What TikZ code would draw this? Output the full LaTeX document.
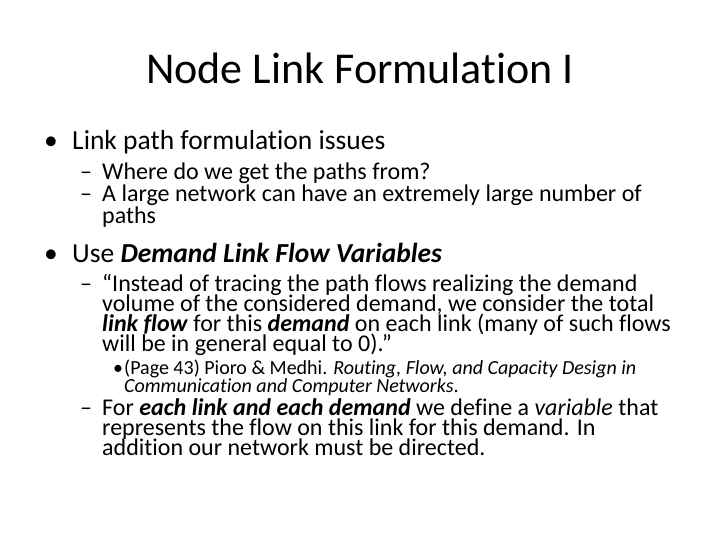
\documentclass[tikz,border=0pt]{standalone}
\usepackage{fontspec}
\setmainfont[Ligatures=NoCommon]{Carlito}
\begin{document}
\begin{tikzpicture}[x=1pt,y=-1pt,
 ln/.style={anchor=base west,inner sep=0pt},
 t1/.style={ln,font=\fontsize{27.5}{32}\selectfont},
 t2/.style={ln,font=\fontsize{24}{28}\selectfont},
 t3/.style={ln,font=\fontsize{20}{24}\selectfont}]
\useasboundingbox (0,0) rectangle (720,540);
\node[anchor=base,inner sep=0pt,font=\fontsize{44}{52}\selectfont] (title) at (360,84) {Node Link Formulation I};
\node[t1] (b1) at (44,150) {•}; \node[t1] (l1) at (72,150) {Link path formulation issues};
\node[t2] (d1) at (80,180) {–}; \node[t2] (l2) at (102,180) {Where do we get the paths from?};
\node[t2] (d2) at (80,202) {–}; \node[t2] (l3) at (102,202) {A large network can have an extremely large number of};
\node[t2] (l4) at (102,224) {paths};
\node[t1] (b2) at (44,262) {•}; \node[t1] (l5) at (72,262) {Use \textbf{\textit{Demand Link Flow Variables}}};
\node[t2] (d3) at (80,291) {–}; \node[t2] (l6) at (102,291) {“Instead of tracing the path flows realizing the demand};
\node[t2] (l7) at (102,311) {volume of the considered demand, we consider the total};
\node[t2] (l8) at (102,331) {\textbf{\textit{link flow}} for this \textbf{\textit{demand}} on each link (many of such flows};
\node[t2] (l9) at (102,351) {will be in general equal to 0).”};
\node[t3] (b3) at (113,374) {•}; \node[t3] (l10) at (124,374) {(Page 43) Pioro \& Medhi. \textit{Routing, Flow, and Capacity Design in}};
\node[t3] (l11) at (124,392) {\textit{Communication and Computer Networks}.};
\node[t2] (d4) at (80,415) {–}; \node[t2] (l12) at (102,415) {For \textbf{\textit{each link and each demand}} we define a \textit{variable} that};
\node[t2] (l13) at (102,435) {represents the flow on this link for this demand. In};
\node[t2] (l14) at (102,455) {addition our network must be directed.};
\end{tikzpicture}
\end{document}
